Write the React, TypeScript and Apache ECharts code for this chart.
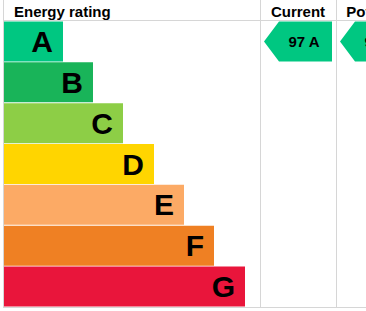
import React, { useEffect, useRef } from "react";
import * as echarts from "echarts";

const ratings = ["A", "B", "C", "D", "E", "F", "G"];
const barLengths = [59, 89, 119, 150, 180, 210, 241];
const barColors = ["#00c781", "#19b459", "#8dce46", "#ffd500", "#fcaa65", "#ef8023", "#e9153b"];
const columnTitles = ["Energy rating", "Current", "Potential"];
const currentScore = { value: 97, band: "A" };
const potentialScore = { value: 97, band: "A" };

export default function App() {
  const ref = useRef<HTMLDivElement>(null);
  useEffect(() => {
    if (!ref.current) return;
    const chart = echarts.init(ref.current, null, { renderer: "svg" });
    const font = "'Liberation Sans', Arial, sans-serif";
    chart.setOption({
      animation: false,
      backgroundColor: "#ffffff",
      grid: { left: 4, top: 21, width: 256, bottom: 4, containLabel: false },
      xAxis: { type: "value", min: 0, max: 256, show: false },
      yAxis: {
        type: "category",
        data: ratings,
        inverse: true,
        show: false,
      },
      series: [
        {
          type: "bar",
          data: barLengths.map((v, i) => ({ value: v, itemStyle: { color: barColors[i] } })),
          barWidth: 40,
          label: {
            show: true,
            position: "insideRight",
            distance: 10,
            formatter: "{b}",
            color: "#000",
            fontSize: 30,
            fontWeight: "bold",
            fontFamily: font,
          },
        },
      ],
    });

    const yCur = chart.convertToPixel({ yAxisIndex: 0 }, currentScore.band) as number;
    const yPot = chart.convertToPixel({ yAxisIndex: 0 }, potentialScore.band) as number;
    const half = 20;
    const lineStyle = { stroke: "#d6d6d6", lineWidth: 1 };
    const arrow = (x0: number, y: number, w: number, label: string) => [
      {
        type: "polygon",
        shape: {
          points: [
            [x0, y],
            [x0 + 15, y - half],
            [x0 + w, y - half],
            [x0 + w, y + half],
            [x0 + 15, y + half],
          ],
        },
        style: { fill: barColors[ratings.indexOf(label.split(" ")[1])] },
      },
      {
        type: "text",
        x: x0 + 40,
        y: y,
        style: {
          text: label,
          fontSize: 15,
          fontWeight: "bold",
          fontFamily: font,
          fill: "#000",
          align: "center",
          verticalAlign: "middle",
        },
      },
    ];

    chart.setOption({
      graphic: [
        { type: "line", shape: { x1: 3.5, y1: 0, x2: 3.5, y2: 307 }, style: lineStyle },
        { type: "line", shape: { x1: 260.5, y1: 0, x2: 260.5, y2: 307 }, style: lineStyle },
        { type: "line", shape: { x1: 336.5, y1: 0, x2: 336.5, y2: 307 }, style: lineStyle },
        { type: "line", shape: { x1: 3, y1: 20.5, x2: 366, y2: 20.5 }, style: lineStyle },
        { type: "line", shape: { x1: 3, y1: 307.5, x2: 366, y2: 307.5 }, style: lineStyle },
        {
          type: "text",
          x: 14,
          y: 11,
          style: { text: columnTitles[0], fontSize: 15, fontWeight: "bold", fontFamily: font, fill: "#000", align: "left", verticalAlign: "middle" },
        },
        {
          type: "text",
          x: 298,
          y: 11,
          style: { text: columnTitles[1], fontSize: 15, fontWeight: "bold", fontFamily: font, fill: "#000", align: "center", verticalAlign: "middle" },
        },
        {
          type: "text",
          x: 378,
          y: 11,
          style: { text: columnTitles[2], fontSize: 15, fontWeight: "bold", fontFamily: font, fill: "#000", align: "center", verticalAlign: "middle" },
        },
        ...arrow(264, yCur, 68, `${currentScore.value} ${currentScore.band}`),
        ...arrow(340, yPot, 68, `${potentialScore.value} ${potentialScore.band}`),
      ],
    });
    return () => chart.dispose();
  }, []);
  return (
    <div
      ref={ref}
      style={{ position: "fixed", left: 0, top: 0, width: 366, height: 311 }}
    />
  );
}
